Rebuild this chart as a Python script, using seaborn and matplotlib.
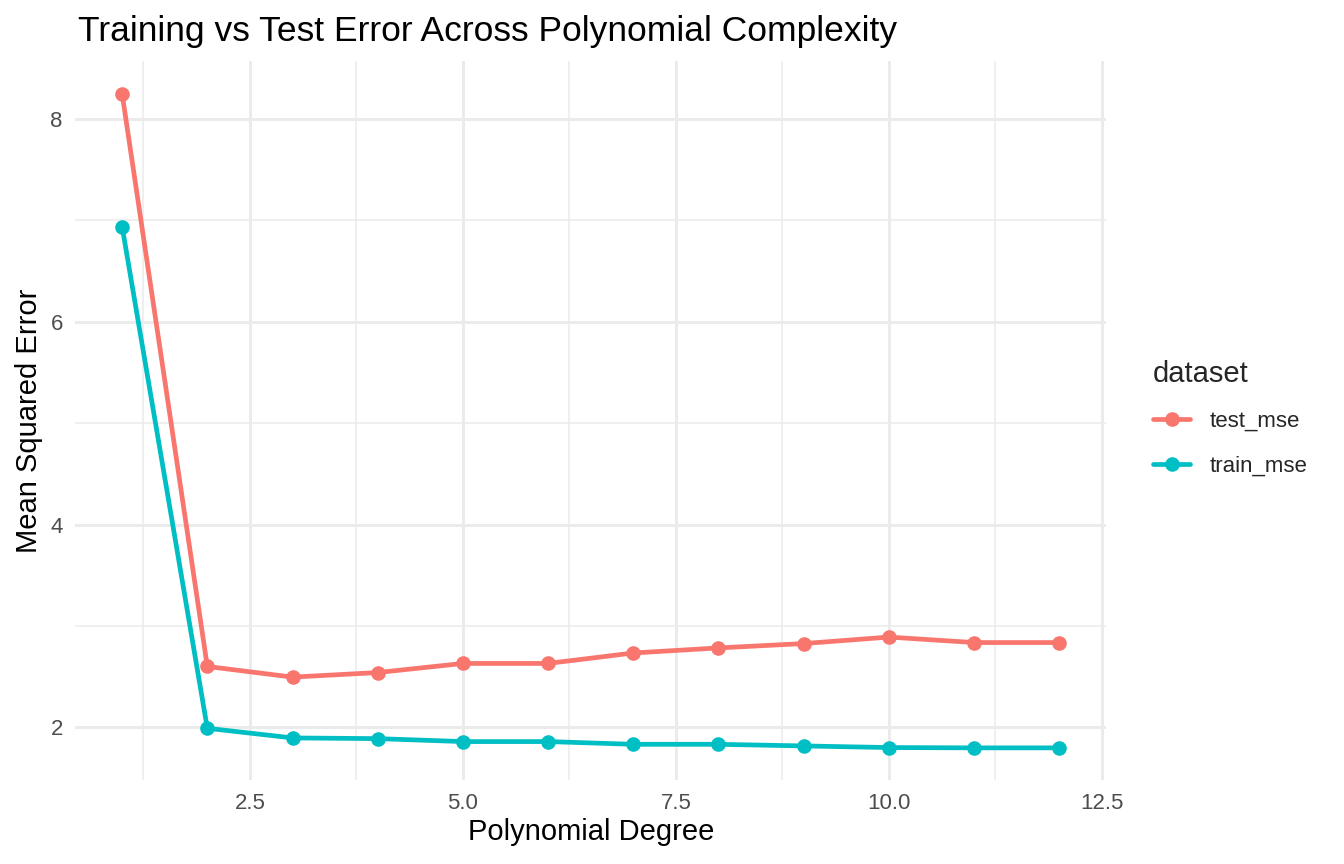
import numpy as np
import pandas as pd
import seaborn as sns
import matplotlib.pyplot as plt
from matplotlib.ticker import MultipleLocator

# Values
degree = [1, 2, 3, 4, 5, 6, 7, 8, 9, 10, 11, 12]
test_mse = [8.25, 2.60, 2.495, 2.54, 2.63, 2.63, 2.733, 2.783, 2.826, 2.89, 2.836, 2.836]
train_mse = [6.94, 1.99, 1.895, 1.888, 1.859, 1.859, 1.832, 1.832, 1.816, 1.80, 1.797, 1.797]

df = pd.DataFrame({"degree": degree, "test_mse": test_mse, "train_mse": train_mse})
long_df = df.melt(id_vars="degree", var_name="dataset", value_name="mse")

sns.set_theme(style="white")
plt.rcParams["font.family"] = ["Liberation Sans", "DejaVu Sans"]

fig = plt.figure(figsize=(13.44, 8.64), dpi=100)
ax = fig.add_axes([0.056, 0.097, 0.767, 0.832])

palette = {"test_mse": "#F8766D", "train_mse": "#00BFC4"}
sns.lineplot(
    data=long_df, x="degree", y="mse", hue="dataset", palette=palette,
    marker="o", markersize=10.5, markeredgewidth=0, linewidth=3.4, ax=ax,
)

# ggplot-like minimal theme
ax.set_xlim(0.45, 12.55)
ax.set_ylim(1.478, 8.57)
ax.xaxis.set_major_locator(MultipleLocator(2.5))
ax.xaxis.set_minor_locator(MultipleLocator(1.25))
ax.yaxis.set_major_locator(MultipleLocator(2))
ax.yaxis.set_minor_locator(MultipleLocator(1))
ax.grid(which="major", color="#EBEBEB", linewidth=2.1)
ax.grid(which="minor", color="#EBEBEB", linewidth=1.1)
ax.set_axisbelow(True)
for s in ax.spines.values():
    s.set_visible(False)
ax.tick_params(which="both", length=0, labelsize=16, labelcolor="#4D4D4D")
ax.tick_params(axis="y", pad=9)
ax.tick_params(axis="x", pad=9)
ax.set_xticks([2.5, 5.0, 7.5, 10.0, 12.5])
ax.set_xticklabels(["2.5", "5.0", "7.5", "10.0", "12.5"])

ax.set_xlabel("Polynomial Degree", fontsize=21, color="black", labelpad=3)
ax.set_ylabel("Mean Squared Error", fontsize=21, color="black", labelpad=5)
fig.text(0.058, 0.963, "Training vs Test Error Across Polynomial Complexity",
         fontsize=25.5, color="black", va="center", ha="left")

ax.get_legend().remove()
handles, labels = ax.get_legend_handles_labels()
leg = fig.legend(
    handles, labels, title="dataset", loc="center left",
    bbox_to_anchor=(0.851, 0.516), frameon=False, fontsize=16,
    title_fontsize=21, handlelength=1.7, labelspacing=1.05, handletextpad=0.86,
    borderaxespad=0,
)
leg._legend_box.align = "left"

fig.savefig("out.png", dpi=100)
